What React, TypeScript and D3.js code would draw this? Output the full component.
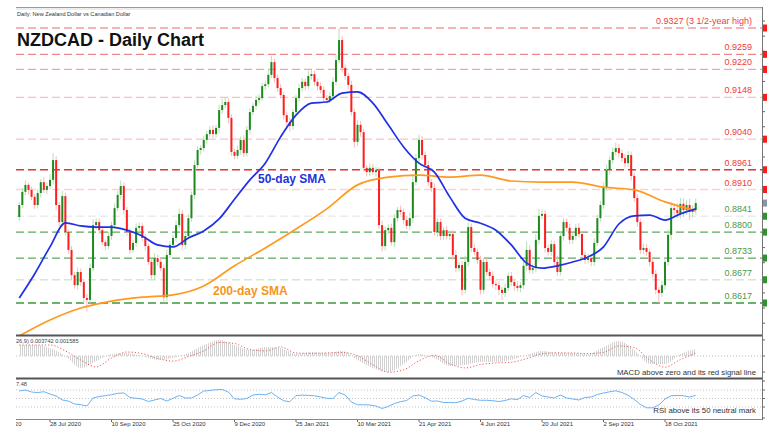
import React from 'react';
import * as d3 from 'd3';

const W = 778;
const H = 441;

// ---- price data (daily candles, open = previous close) ----
const firstOpen = 0.8839;
const closes = [
  0.8870, 0.8904, 0.8922, 0.8909, 0.8891, 0.8870, 0.8901, 0.8929, 0.8909, 0.8919,
  0.8935, 0.8986, 0.8870, 0.8826, 0.8893, 0.8800, 0.8754, 0.8689, 0.8663, 0.8697,
  0.8671, 0.8630, 0.8625, 0.8707, 0.8818, 0.8826, 0.8805, 0.8774, 0.8764, 0.8790,
  0.8818, 0.8862, 0.8896, 0.8919, 0.8857, 0.8800, 0.8754, 0.8772, 0.8811, 0.8816,
  0.8785, 0.8764, 0.8723, 0.8689, 0.8733, 0.8723, 0.8707, 0.8632, 0.8741, 0.8767,
  0.8785, 0.8818, 0.8847, 0.8767, 0.8790, 0.8836, 0.8896, 0.8973, 0.9012, 0.9017,
  0.9038, 0.9053, 0.9064, 0.9053, 0.9069, 0.9115, 0.9128, 0.9136, 0.9095, 0.9007,
  0.8997, 0.9012, 0.9038, 0.9004, 0.9064, 0.9110, 0.9126, 0.9141, 0.9146, 0.9177,
  0.9182, 0.9206, 0.9239, 0.9198, 0.9172, 0.9154, 0.9102, 0.9084, 0.9074, 0.9110,
  0.9146, 0.9172, 0.9188, 0.9177, 0.9203, 0.9208, 0.9188, 0.9177, 0.9167, 0.9146,
  0.9141, 0.9151, 0.9188, 0.9244, 0.9296, 0.9224, 0.9203, 0.9180, 0.9110, 0.9033,
  0.9077, 0.9058, 0.8966, 0.8955, 0.8966, 0.8955, 0.8960, 0.8818, 0.8764, 0.8805,
  0.8811, 0.8774, 0.8836, 0.8857, 0.8852, 0.8831, 0.8816, 0.8836, 0.8929, 0.8991,
  0.9038, 0.8999, 0.8973, 0.8929, 0.8914, 0.8800, 0.8826, 0.8790, 0.8805, 0.8790,
  0.8795, 0.8741, 0.8707, 0.8715, 0.8651, 0.8723, 0.8813, 0.8759, 0.8749, 0.8728,
  0.8651, 0.8723, 0.8697, 0.8687, 0.8666, 0.8663, 0.8651, 0.8643, 0.8656, 0.8687,
  0.8671, 0.8661, 0.8656, 0.8663, 0.8713, 0.8754, 0.8702, 0.8707, 0.8780, 0.8842,
  0.8847, 0.8759, 0.8749, 0.8769, 0.8723, 0.8697, 0.8790, 0.8826, 0.8811, 0.8780,
  0.8790, 0.8811, 0.8795, 0.8741, 0.8728, 0.8733, 0.8723, 0.8772, 0.8836, 0.8870,
  0.8916, 0.8960, 0.8986, 0.9007, 0.9017, 0.9004, 0.8991, 0.8978, 0.8999, 0.8945,
  0.8888, 0.8826, 0.8754, 0.8759, 0.8749, 0.8723, 0.8692, 0.8651, 0.8643, 0.8663,
  0.8723, 0.8793, 0.8862, 0.8857, 0.8849, 0.8873, 0.8857, 0.8870, 0.8852, 0.8857,
  0.8875,
];
// upper / lower shadow beyond the body, in pips
const upWick = [
  8, 10, 12, 6, 9, 7, 10, 8, 12, 9,
  14, 18, 10, 8, 14, 9, 7, 10, 8, 12,
  9, 8, 10, 12, 15, 9, 8, 11, 7, 10,
  9, 12, 10, 14, 9, 8, 10, 7, 11, 9,
  8, 10, 7, 9, 12, 8, 10, 9, 14, 10,
  9, 12, 14, 10, 8, 11, 9, 12, 10, 8,
  11, 9, 10, 12, 8, 14, 16, 12, 10, 9,
  8, 11, 9, 12, 10, 9, 8, 12, 10, 9,
  10, 12, 16, 9, 8, 10, 7, 9, 11, 8,
  9, 12, 10, 8, 14, 11, 9, 8, 10, 9,
  8, 10, 12, 15, 31, 10, 9, 8, 11, 9,
  12, 10, 9, 8, 11, 10, 9, 8, 12, 10,
  9, 11, 10, 8, 12, 9, 10, 14, 16, 12,
  14, 10, 9, 11, 8, 12, 10, 9, 8, 11,
  9, 10, 12, 8, 10, 16, 12, 9, 10, 8,
  11, 9, 10, 8, 12, 9, 10, 8, 11, 9,
  10, 9, 12, 8, 14, 22, 12, 10, 15, 18,
  12, 10, 9, 11, 8, 16, 12, 10, 9, 11,
  9, 10, 12, 8, 9, 11, 10, 12, 9, 10,
  12, 14, 10, 12, 14, 10, 9, 11, 10, 9,
  8, 10, 9, 11, 10, 8, 9, 10, 8, 12,
  10, 14, 16, 12, 18, 15, 14, 12, 16, 13,
  12,
];
const downWick = [
  10, 8, 9, 12, 8, 10, 9, 11, 8, 10,
  9, 12, 14, 10, 12, 8, 10, 12, 9, 11,
  10, 14, 30, 9, 8, 12, 10, 9, 11, 8,
  10, 9, 8, 12, 10, 9, 11, 8, 10, 9,
  9, 11, 8, 10, 12, 9, 8, 14, 10, 9,
  8, 10, 9, 12, 11, 8, 9, 10, 8, 12,
  9, 10, 8, 11, 9, 12, 10, 8, 14, 10,
  9, 8, 12, 10, 9, 11, 8, 10, 9, 8,
  10, 9, 8, 12, 10, 9, 11, 12, 14, 10,
  8, 10, 9, 11, 8, 9, 10, 12, 9, 10,
  9, 8, 10, 9, 8, 12, 10, 11, 9, 14,
  10, 12, 9, 11, 10, 8, 12, 10, 14, 11,
  10, 9, 12, 10, 8, 11, 9, 10, 12, 9,
  10, 12, 9, 11, 10, 9, 12, 10, 11, 9,
  10, 12, 11, 9, 14, 10, 12, 11, 9, 10,
  12, 10, 9, 11, 10, 12, 14, 18, 11, 9,
  10, 12, 9, 11, 10, 12, 9, 10, 11, 12,
  9, 12, 10, 11, 14, 10, 9, 12, 10, 11,
  10, 11, 9, 12, 10, 9, 11, 10, 8, 9,
  10, 9, 11, 10, 9, 12, 10, 11, 9, 12,
  10, 12, 11, 10, 9, 12, 10, 12, 26, 11,
  12, 10, 14, 16, 12, 14, 18, 12, 20, 14,
  11,
];

// ---- moving averages (read every 5th / 10th bar) ----
const sma50Step = 5;
const sma50 = [
  0.8630, 0.8692, 0.8762, 0.8824, 0.8816, 0.8813, 0.8813, 0.8805, 0.8790, 0.8767,
  0.8762, 0.8785, 0.8803, 0.8834, 0.8885, 0.8935, 0.8978, 0.9046, 0.9102, 0.9133,
  0.9136, 0.9159, 0.9162, 0.9133, 0.9077, 0.9020, 0.8978, 0.8955, 0.8891, 0.8836,
  0.8823, 0.8805, 0.8767, 0.8720, 0.8707, 0.8713, 0.8723, 0.8736, 0.8762, 0.8821,
  0.8842, 0.8844, 0.8831, 0.8847, 0.8860,
];
const sma200Step = 10;
const sma200 = [
  0.8532, 0.8573, 0.8604, 0.8622, 0.8632, 0.8638, 0.8661, 0.8713, 0.8759, 0.8808,
  0.8860, 0.8922, 0.8942, 0.8947, 0.8942, 0.8947, 0.8932, 0.8929, 0.8929, 0.8916,
  0.8909, 0.8878, 0.8855,
];

// ---- MACD (every 5th bar) ----
const macdStep = 5;
const macdMain = [
  0.0058, 0.0058, 0.0042, 0.0000, -0.0064, -0.0027, 0.0011, 0.0016, 0.0000, -0.0021,
  -0.0011, 0.0016, 0.0058, 0.0085, 0.0058, 0.0032, 0.0048, 0.0042, 0.0011, 0.0021,
  0.0016, 0.0027, -0.0021, -0.0064, -0.0085, -0.0042, 0.0011, -0.0011, -0.0053, -0.0048,
  -0.0032, -0.0032, -0.0021, 0.0005, 0.0027, 0.0016, 0.0016, 0.0011, 0.0048, 0.0080,
  0.0032, -0.0042, -0.0042, 0.0011, 0.0037,
];
const macdSignal = [
  0.0058, 0.0058, 0.0058, 0.0027, -0.0021, -0.0058, -0.0011, 0.0021, 0.0013, -0.0013,
  -0.0027, -0.0003, 0.0027, 0.0072, 0.0066, 0.0034, 0.0027, 0.0048, 0.0016, 0.0014,
  0.0016, 0.0019, 0.0001, -0.0046, -0.0086, -0.0073, -0.0025, 0.0004, -0.0041, -0.0063,
  -0.0045, -0.0037, -0.0033, -0.0014, 0.0012, 0.0017, 0.0016, 0.0013, 0.0019, 0.0053,
  0.0045, -0.0021, -0.0059, -0.0019, 0.0016,
];

// ---- RSI (every 2nd bar) ----
const rsiStep = 2;
const rsi = [
  67.6, 70, 65.3, 64, 66, 60.6, 55.9, 46.5, 44, 37,
  35.4, 32.4, 51, 54.7, 56.6, 58.9, 62.2, 63, 52.4, 50.5,
  48.8, 43, 46.5, 50, 44, 50.5, 57, 51.2, 51.2, 58.2,
  67.6, 68.8, 70.7, 71.2, 65.3, 49.3, 48.1, 50, 58.2, 60.1,
  58.7, 64.1, 53.5, 44.6, 42.5, 57, 57.8, 57.3, 56.4, 53.5,
  50.5, 50, 64.1, 58.2, 41.8, 35.2, 35.2, 34.7, 32.4, 26.5,
  31.2, 38.2, 42.5, 45.3, 55.9, 58.2, 51.9, 43.6, 44.1, 40.6,
  40.6, 39.9, 44.1, 50.5, 47.6, 45.8, 45.8, 44.8, 42.9, 45.3,
  49.3, 47.4, 57, 52.4, 64.1, 55.9, 53.5, 51.2, 58.2, 51.2,
  48.8, 46.5, 52.4, 53.5, 59.4, 62.9, 65.8, 68.1, 64.1, 57.5,
  47.6, 35.9, 28.1, 28.1, 34.7, 48.8, 56.4, 57.3, 56.6, 53.5,
  57.5,
];
const rsiGuides = [70, 50, 30];

// ---- time axis ----
const dateTickIdx = [-10, 10, 30, 50, 70, 90, 110, 130, 150, 170, 190, 210];
const dateTickLabels = [
  '12 Jun 2020', '28 Jul 2020', '10 Sep 2020', '25 Oct 2020', '9 Dec 2020', '25 Jan 2021',
  '10 Mar 2021', '21 Apr 2021', '4 Jun 2021', '20 Jul 2021', '2 Sep 2021', '18 Oct 2021',
];

// ---- key levels ----
const levelValues = [0.9327, 0.9259, 0.9220, 0.9148, 0.9040, 0.8961, 0.8910, 0.8841, 0.8800, 0.8733, 0.8677, 0.8617];
const levelLabels = ['0.9327 (3 1/2-year high)', '0.9259', '0.9220', '0.9148', '0.9040', '0.8961', '0.8910', '0.8841', '0.8800', '0.8733', '0.8677', '0.8617'];
const levelSide = ['res', 'res', 'res', 'res', 'res', 'res', 'res', 'sup', 'sup', 'sup', 'sup', 'sup'];

// right price axis tick positions (labels fall outside the picture)
const priceTicks = [0.9345, 0.9306, 0.9267, 0.9228, 0.9189, 0.9150, 0.9111, 0.9072, 0.9033, 0.8994, 0.8955, 0.8916, 0.8877, 0.8838, 0.8799, 0.8760, 0.8721, 0.8682, 0.8643, 0.8604, 0.8565];
const macdTicks = [0.0085, 0, -0.0085];
const rsiTicks = [100, 70, 50, 30, 0];

// ---- styles (kept apart from the data) ----
const FONT = '"Liberation Sans", Arial, Helvetica, sans-serif';
const LEVEL_STROKE = ['#f49c9c', '#f08686', '#f4a4a4', '#f7c0c0', '#f8c6c6', '#e83232', '#fad2d2', '#ececec', '#5daa5d', '#5daa5d', '#d4e9d4', '#3c993c'];

export default function App() {
  const L = 16;
  const R = 762;
  const n = closes.length;
  const x = d3.scaleLinear().domain([0, n - 1]).range([19.25, 695.75]);
  const y = d3.scaleLinear().domain([0.8617, 0.9327]).range([303, 28]);
  const yMacd = d3.scaleLinear().domain([-0.01, 0.01]).range([374.9, 337.1]);
  const yRsi = d3.scaleLinear().domain([30, 70]).range([407, 390]);
  const rsiClamp = (v: number) => Math.max(381, Math.min(418, yRsi(v)));

  const candles = closes.map((c, i) => {
    const o = i === 0 ? firstOpen : closes[i - 1];
    const hi = Math.max(o, c) + upWick[i] / 10000;
    const lo = Math.min(o, c) - downWick[i] / 10000;
    return { i, o, c, hi, lo, up: c >= o };
  });

  const sma50Path = d3.line<number>().x((_, k) => x(k * sma50Step)).y((v) => y(v)).curve(d3.curveMonotoneX)(sma50) || '';
  const sma200Path = d3.line<number>().x((_, k) => x(k * sma200Step)).y((v) => y(v)).curve(d3.curveMonotoneX)(sma200) || '';
  const macdArea = d3.area<number>().x((_, k) => x(k * macdStep)).y0(yMacd(0)).y1((v) => yMacd(v)).curve(d3.curveMonotoneX)(macdMain) || '';
  const signalPath = d3.line<number>().x((_, k) => x(k * macdStep)).y((v) => yMacd(v)).curve(d3.curveMonotoneX)(macdSignal) || '';
  const rsiPath = d3.line<number>().x((_, k) => x(k * rsiStep)).y((v) => yRsi(v)).curve(d3.curveLinear)(rsi) || '';

  const last = closes[n - 1];

  return (
    <svg width={W} height={H} style={{ position: 'absolute', left: 0, top: 0, background: '#fff' }} fontFamily={FONT}>
      <defs>
        <clipPath id="cMain"><rect x={L} y={8} width={R - L} height={327} /></clipPath>
        <clipPath id="cMacd"><rect x={L} y={337} width={R - L} height={41} /></clipPath>
        <clipPath id="cRsi"><rect x={L} y={380} width={R - L} height={39} /></clipPath>
        <clipPath id="cLeft"><rect x={L} y={0} width={W - L} height={H} /></clipPath>
        <clipPath id="cRight"><rect x={0} y={0} width={767} height={H} /></clipPath>
        <pattern id="hist" width={2} height={4} patternUnits="userSpaceOnUse">
          <rect x={0} y={0} width={1} height={4} fill="#d2d2d2" />
        </pattern>
      </defs>
      <rect x={0} y={0} width={W} height={H} fill="#fff" />

      {/* frame */}
      <line x1={L} x2={R} y1={7.5} y2={7.5} stroke="#9a9a9a" strokeWidth={1} />
      <line x1={L} x2={R} y1={9} y2={9} stroke="#dcdcdc" strokeWidth={1} />
      <text x={17} y={16} fontSize={5.6} fill="#333">Daily:  New Zealand Dollar vs Canadian Dollar</text>

      {/* key levels */}
      <g clipPath="url(#cMain)">
        {levelValues.map((v, k) => (
          <line key={k} x1={L} x2={R} y1={y(v)} y2={y(v)} stroke={LEVEL_STROKE[k]} strokeWidth={1.3} strokeDasharray="8,4" />
        ))}
      </g>

      {/* candles */}
      <g clipPath="url(#cMain)">
        {candles.map((d) => (
          <line key={'w' + d.i} x1={x(d.i)} x2={x(d.i)} y1={y(d.hi)} y2={y(d.lo)} stroke={d.up ? '#b9deb9' : '#f6bcbc'} strokeWidth={1} />
        ))}
        {candles.map((d) => {
          const top = y(Math.max(d.o, d.c));
          const h = Math.max(1, y(Math.min(d.o, d.c)) - top);
          return <rect key={'b' + d.i} x={x(d.i) - 1} y={top} width={2} height={h} fill={d.up ? '#1e8a1e' : '#ff1e1e'} />;
        })}
        <path d={sma200Path} fill="none" stroke="#ff9a1e" strokeWidth={1.7} />
        <path d={sma50Path} fill="none" stroke="#1f30e6" strokeWidth={1.7} />
      </g>

      {/* level labels */}
      {levelValues.map((v, k) => (
        <text key={k} x={752} y={y(v) - 4} fontSize={9} textAnchor="end" fill={levelSide[k] === 'res' ? '#f03a3a' : '#4a9a4a'}>{levelLabels[k]}</text>
      ))}

      <text x={17} y={46} fontSize={18} fontWeight="bold" fill="#111">NZDCAD - Daily Chart</text>
      <text x={258} y={183} fontSize={12} fontWeight="bold" fill="#2233dd">50-day SMA</text>
      <text x={213} y={295} fontSize={12} fontWeight="bold" fill="#f7941d">200-day SMA</text>

      {/* right axis */}
      <line x1={R + 0.5} x2={R + 0.5} y1={7} y2={420} stroke="#777" strokeWidth={1} />
      <g clipPath="url(#cRight)">
        {priceTicks.map((v, k) => (
          <line key={k} x1={R} x2={R + 3} y1={y(v)} y2={y(v)} stroke="#666" />
        ))}
        {levelValues.map((v, k) => (
          <rect key={k} x={R + 1} y={y(v) - 3.5} width={6} height={7} fill={levelSide[k] === 'res' ? '#ff1a1a' : '#2a962a'} />
        ))}
        <rect x={R + 1} y={y(last) - 3.5} width={6} height={7} fill="#8796a6" />
        {macdTicks.map((v, k) => (
          <line key={'m' + k} x1={R} x2={R + 3} y1={yMacd(v)} y2={yMacd(v)} stroke="#666" />
        ))}
        {rsiTicks.map((v, k) => (
          <line key={'r' + k} x1={R} x2={R + 3} y1={rsiClamp(v)} y2={rsiClamp(v)} stroke="#666" />
        ))}
      </g>

      {/* panel separators */}
      <line x1={L} x2={R} y1={335.5} y2={335.5} stroke="#555" strokeWidth={2} />
      <line x1={L} x2={R} y1={378.5} y2={378.5} stroke="#555" strokeWidth={2} />
      <line x1={L} x2={R} y1={419.5} y2={419.5} stroke="#888" strokeWidth={1} />

      {/* MACD */}
      <g clipPath="url(#cMacd)">
        <line x1={L} x2={R} y1={yMacd(0)} y2={yMacd(0)} stroke="#bbb" strokeDasharray="1,2" />
        <path d={macdArea} fill="url(#hist)" />
        <path d={signalPath} fill="none" stroke="#f05a5a" strokeWidth={1} strokeDasharray="1.2,2" />
      </g>
      <text x={16} y={343} fontSize={5.6} fill="#444">26,9) 0.003742 0.001585</text>
      <text x={756} y={375} fontSize={7.8} textAnchor="end" fill="#333">MACD above zero and its red signal line</text>

      {/* RSI */}
      <g clipPath="url(#cRsi)">
        {rsiGuides.map((v) => (
          <line key={v} x1={L} x2={R} y1={yRsi(v)} y2={yRsi(v)} stroke="#c4c4c4" strokeDasharray="1,2" />
        ))}
        <path d={rsiPath} fill="none" stroke="#6cb2f2" strokeWidth={1} />
      </g>
      <text x={16} y={386} fontSize={5.6} fill="#444">7.48</text>
      <text x={756} y={413} fontSize={7.8} textAnchor="end" fill="#333">RSI above its 50 neutral mark</text>

      {/* time axis */}
      <g clipPath="url(#cLeft)">
        {dateTickIdx.map((t, k) => (
          <g key={k}>
            <line x1={x(t)} x2={x(t)} y1={420} y2={422} stroke="#666" />
            <text x={x(t)} y={426} fontSize={6} fill="#333">{dateTickLabels[k]}</text>
          </g>
        ))}
      </g>
    </svg>
  );
}
